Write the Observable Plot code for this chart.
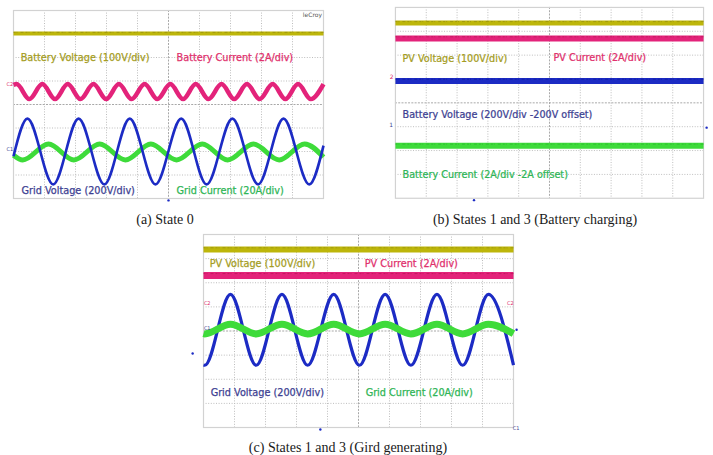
<!DOCTYPE html>
<html><head><meta charset="utf-8">
<script src="https://cdn.jsdelivr.net/npm/d3@7"></script>
<script src="https://cdn.jsdelivr.net/npm/@observablehq/plot@0.6"></script>
<style>
html,body{margin:0;padding:0;background:#fff;}
#root{position:relative;width:713px;height:455px;overflow:hidden;background:#fff;}
.panel{position:absolute;}
.cap{position:absolute;font-family:"Liberation Serif","Times New Roman",serif;font-size:14px;color:#1a1a1a;white-space:nowrap;transform:translateX(-50%);}
</style></head><body><div id="root"></div>
<script>
// ---------- Panel (a) State 0 (units: divisions, x 0..10, y -4..4) ----------
const aBattVoltX = [0, 10];
const aBattVoltY = [3.02, 3.02];
const aBattCurX = [0, 0.10, 0.51, 0.93, 1.34, 1.75, 2.16, 2.58, 2.99, 3.40, 3.81, 4.23, 4.64, 5.06, 5.47, 5.88, 6.29, 6.71, 7.12, 7.53, 7.94, 8.36, 8.77, 9.18, 9.59, 10];
const aBattCurY = [0.84, 0.87, 0.23, 0.87, 0.23, 0.87, 0.23, 0.87, 0.23, 0.87, 0.23, 0.87, 0.23, 0.87, 0.23, 0.87, 0.23, 0.87, 0.23, 0.87, 0.23, 0.87, 0.23, 0.87, 0.23, 0.87];
const aGridVoltX = [0, 0.45, 1.28, 2.10, 2.93, 3.75, 4.58, 5.41, 6.23, 7.06, 7.89, 8.71, 9.54, 10];
const aGridVoltY = [-2.2, -0.60, -3.40, -0.60, -3.40, -0.60, -3.40, -0.60, -3.40, -0.60, -3.40, -0.60, -3.40, -1.75];
const aGridCurX = [0, 0.30, 1.13, 1.95, 2.78, 3.61, 4.43, 5.26, 6.09, 6.91, 7.74, 8.57, 9.39, 10];
const aGridCurY = [-2.16, -2.36, -1.68, -2.36, -1.68, -2.36, -1.68, -2.36, -1.68, -2.36, -1.68, -2.36, -1.68, -2.24];
const aLabels = ["Battery Voltage (100V/div)", "Battery Current (2A/div)", "Grid Voltage (200V/div)", "Grid Current (20A/div)"];

// ---------- Panel (b) States 1 and 3 (Battery charging) ----------
const bPvVoltY = 3.35;
const bPvCurY = 2.70;
const bBattVoltY = 0.92;
const bBattCurY = -1.80;
const bLabels = ["PV Voltage (100V/div)", "PV Current (2A/div)", "Battery Voltage (200V/div -200V offset)", "Battery Current (2A/div -2A offset)"];

// ---------- Panel (c) States 1 and 3 (Gird generating) ----------
const cPvVoltY = 3.38;
const cPvCurY = 2.30;
const cGridX = [0, 0.04, 0.87, 1.70, 2.53, 3.36, 4.20, 5.03, 5.86, 6.69, 7.53, 8.36, 9.19, 10];
const cGridVoltY = [-1.41, -1.42, 1.52, -1.42, 1.52, -1.42, 1.52, -1.42, 1.52, -1.42, 1.52, -1.42, 1.52, -1.41];
const cGridCurY = [-0.11, -0.12, 0.28, -0.12, 0.28, -0.12, 0.28, -0.12, 0.28, -0.12, 0.28, -0.12, 0.28, -0.11];
const cLabels = ["PV Voltage (100V/div)", "PV Current (2A/div)", "Grid Voltage (200V/div)", "Grid Current (20A/div)"];

const captions = ["(a) State 0", "(b) States 1 and 3 (Battery charging)", "(c) States 1 and 3 (Gird generating)"];

// ---------- styling ----------
const C = {
  olive: "#bdb60a", pink: "#e3237a", blue: "#1c2bc4", green: "#3edb3a",
  tOlive: "#a49c22", tPink: "#e0306c", tBlue: "#3d3f92", tGreen: "#2fb556",
  dOlive: "#8a8410", dPink: "#b0104f", dBlue: "#0a1690", dGreen: "#22a82a"
};
const FONT = "DejaVu Sans, Verdana, sans-serif";
const zip = (xs, ys) => xs.map((x, i) => ({x, y: ys[i]}));
const flat = (v) => [{x: 0, y: v}, {x: 10, y: v}];

function screenMarks() {
  return [
    Plot.ruleX(d3.range(1, 10).filter(d => d !== 5), {stroke: "#bdbdbd", strokeWidth: 1, strokeDasharray: "1,1.6"}),
    Plot.ruleY(d3.range(-3, 4).filter(d => d !== 0), {stroke: "#bdbdbd", strokeWidth: 1, strokeDasharray: "1,1.6"}),
    Plot.ruleX([5], {stroke: "#a8a8a8", strokeWidth: 1, strokeDasharray: "2,1.3"}),
    Plot.ruleY([0], {stroke: "#a8a8a8", strokeWidth: 1, strokeDasharray: "2,1.3"}),
    Plot.frame({stroke: "#d2d2d2", strokeWidth: 1.2})
  ];
}
function trace(data, color, w, dark) {
  const m = [Plot.line(data, {x: "x", y: "y", curve: "monotone-x", stroke: color, strokeWidth: w, strokeLinecap: "butt"})];
  if (dark) {
    m.push(Plot.line(data, {x: "x", y: "y", curve: "monotone-x", stroke: dark, strokeWidth: 1, strokeOpacity: 0.55,
      strokeDasharray: "2,1,1,3,3,2", strokeLinecap: "butt", dy: -w * 0.28}));
  }
  return m;
}
function label(text, x, y, color) {
  return Plot.text([text], {x: () => x, y: () => y, text: d => d, textAnchor: "start", fill: color,
    stroke: color, strokeWidth: 0.25, fontSize: 9.7, fontFamily: FONT});
}
function makePlot(marks, w, h) {
  return Plot.plot({
    width: w, height: h, margin: 10,
    x: {domain: [0, 10], axis: null},
    y: {domain: [-4, 4], axis: null},
    style: {background: "transparent", overflow: "visible"},
    marks
  });
}
const root = document.getElementById("root");
function place(el, left, top) {
  const d = document.createElement("div");
  d.className = "panel";
  d.style.left = left + "px"; d.style.top = top + "px";
  d.appendChild(el); root.appendChild(d);
}
function caption(text, cx, top) {
  const d = document.createElement("div");
  d.className = "cap"; d.textContent = text;
  d.style.left = cx + "px"; d.style.top = top + "px";
  root.appendChild(d);
}

// Panel (a)
place(makePlot([
  ...screenMarks(),
  ...trace(flat(aBattVoltY[0]), C.olive, 4, C.dOlive),
  ...trace(zip(aBattCurX, aBattCurY), C.pink, 4.5),
  ...trace(zip(aGridCurX, aGridCurY), C.green, 5),
  ...trace(zip(aGridVoltX, aGridVoltY), C.blue, 2.6),
  label(aLabels[0], 0.23, 2.0, C.tOlive),
  label(aLabels[1], 5.26, 2.0, C.tPink),
  label(aLabels[2], 0.26, -3.66, C.tBlue),
  label(aLabels[3], 5.26, -3.66, C.tGreen),
  Plot.text(["leCroy"], {x: () => 9.95, y: () => 3.8, text: d => d, textAnchor: "end", fontSize: 6, fill: "#555", fontFamily: FONT}),
  Plot.text(["C2"], {x: () => -0.12, y: () => 0.85, text: d => d, fontSize: 5, fill: C.tPink, fontFamily: FONT}),
  Plot.text(["C1"], {x: () => -0.12, y: () => -1.9, text: d => d, fontSize: 5, fill: C.tBlue, fontFamily: FONT}),
  Plot.dot([5], {x: d => d, y: () => -4.08, r: 1.2, fill: C.blue, stroke: null})
], 330, 208), 3, 0);

// Panel (b)
place(makePlot([
  ...screenMarks(),
  ...trace(flat(bPvVoltY), C.olive, 5, C.dOlive),
  ...trace(flat(bPvCurY), C.pink, 6, C.dPink),
  ...trace(flat(bBattVoltY), C.blue, 6, C.dBlue),
  ...trace(flat(bBattCurY), C.green, 6, C.dGreen),
  label(bLabels[0], 0.23, 1.83, C.tOlive),
  label(bLabels[1], 5.13, 1.88, C.tPink),
  label(bLabels[2], 0.23, -0.5, C.tBlue),
  label(bLabels[3], 0.23, -3.0, C.tGreen),
  Plot.text(["2"], {x: () => -0.12, y: () => 1.08, text: d => d, fontSize: 6, fill: C.tPink, fontFamily: FONT}),
  Plot.text(["1"], {x: () => -0.14, y: () => -0.95, text: d => d, fontSize: 6, fill: C.tBlue, fontFamily: FONT}),
  Plot.dot([2.55], {x: d => d, y: () => -4.08, r: 1.2, fill: C.blue, stroke: null}),
  Plot.dot([10.1], {x: d => d, y: () => -1.04, r: 1.2, fill: C.blue, stroke: null})
], 330, 212), 385, -3);

// Panel (c)
place(makePlot([
  ...screenMarks(),
  ...trace(flat(cPvVoltY), C.olive, 6, C.dOlive),
  ...trace(flat(cPvCurY), C.pink, 7, C.dPink),
  ...trace(zip(cGridX, cGridVoltY), C.blue, 3.2),
  ...trace(zip(cGridX, cGridCurY), C.green, 7),
  label(cLabels[0], 0.2, 2.8, C.tOlive),
  label(cLabels[1], 5.2, 2.8, C.tPink),
  label(cLabels[2], 0.23, -2.55, C.tBlue),
  label(cLabels[3], 5.23, -2.55, C.tGreen),
  Plot.text(["C2"], {x: () => 0.12, y: () => 1.15, text: d => d, fontSize: 5, fill: C.tPink, fontFamily: FONT}),
  Plot.text(["C1"], {x: () => 0.12, y: () => 0.1, text: d => d, fontSize: 5, fill: C.tBlue, fontFamily: FONT}),
  Plot.text(["C2"], {x: () => 9.9, y: () => 1.15, text: d => d, fontSize: 5, fill: C.tPink, fontFamily: FONT}),
  Plot.text(["C1"], {x: () => 10.08, y: () => -4.2 + 0.15, text: d => d, fontSize: 5, fill: C.tBlue, fontFamily: FONT}),
  Plot.dot([3.77], {x: d => d, y: () => -4.08, r: 1.2, fill: C.blue, stroke: null}),
  Plot.dot([-0.35], {x: d => d, y: () => -0.93, r: 1.2, fill: C.blue, stroke: null}),
  Plot.dot([10.1], {x: d => d, y: () => 0.05, r: 1.2, fill: C.blue, stroke: null})
], 330, 213), 193, 224);

caption(captions[0], 165, 212);
caption(captions[1], 535, 212);
caption(captions[2], 348, 440);
</script>
</body></html>
